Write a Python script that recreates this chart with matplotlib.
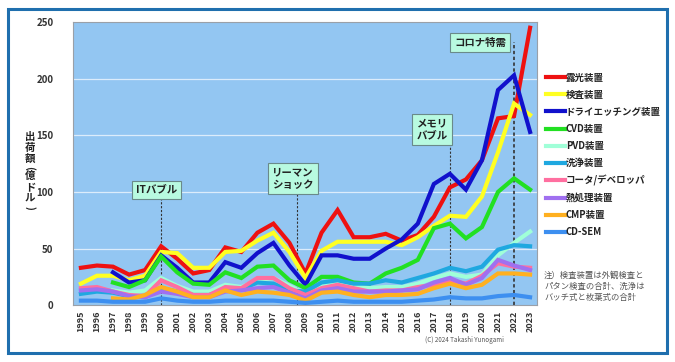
import numpy as np
import matplotlib.pyplot as plt
from matplotlib.patches import Rectangle

plt.rcParams['font.family'] = ['Noto Sans CJK JP', 'DejaVu Sans']

nan = np.nan
years = list(range(1995, 2024))

# shipment values (100M USD)
red = [33, 35, 34, 27, 31, 52, 41, 28, 31, 51, 47, 64, 72, 55, 28, 64, 84, 60, 60, 63, 57, 62, 78, 104, 111, 128, 165, 167, 245]
yellow = [19, 26, 26, 22, 26, 47, 46, 33, 33, 47, 48, 57, 64, 47, 24, 48, 56, 56, 56, 56, 53, 60, 70, 79, 78, 96, 135, 178, 168]
blue = [nan, nan, 29, 20, 22, 44, 33, 20, 20, 38, 33, 46, 55, 35, 18, 44, 44, 41, 41, 50, 58, 72, 107, 116, 102, 128, 190, 203, 153]
green = [nan, nan, 20, 16, 22, 43, 29, 19, 18, 29, 24, 34, 35, 22, 15, 25, 25, 20, 19, 28, 33, 40, 68, 72, 59, 69, 100, 112, 102]
pvd = [nan, nan, 13, 11, 13, 24, 17, 12, 12, 18, 16, 22, 24, 17, 10, 19, 20, 17, 15, 16, 16, 19, 24, 28, 25, 27, 44, 55, 65]
clean = [10, 12, 11, 8, 7, 15, 12, 9, 9, 14, 14, 20, 19, 13, 12, 20, 22, 19, 19, 22, 20, 24, 28, 33, 30, 34, 49, 53, 52]
coater = [15, 16, 12, 9, 8, 22, 16, 9, 9, 16, 15, 24, 24, 15, 9, 15, 18, 15, 12, 13, 13, 16, 18, 22, 19, 26, 37, 34, 33]
heat = [13, 14, 12, 8, 7, 12, 10, 7, 7, 12, 13, 15, 16, 11, 6, 13, 15, 12, 12, 12, 13, 14, 20, 24, 18, 24, 40, 35, 31]
cmp_ = [nan, nan, 6, 5, 9, 16, 12, 7, 7, 13, 9, 12, 11, 9, 4, 11, 12, 9, 7, 9, 9, 10, 15, 19, 15, 18, 28, 28, 27]
cdsem = [4, 4, 3, 3, 3, 6, 4, 3, 3, 4, 4, 4, 4, 3, 2, 3, 4, 3, 3, 3, 3, 4, 5, 7, 6, 6, 8, 9, 7]

series = [
    ('露光装置', red, '#ee1111'),
    ('検査装置', yellow, '#ffff22'),
    ('ドライエッチング装置', blue, '#1111cc'),
    ('CVD装置', green, '#22e022'),
    ('PVD装置', pvd, '#a0ffd8'),
    ('洗浄装置', clean, '#1fa8e0'),
    ('コータ/デベロッパ', coater, '#ff6fa0'),
    ('熱処理装置', heat, '#a070f0'),
    ('CMP装置', cmp_, '#ffb020'),
    ('CD-SEM', cdsem, '#3d8ff0'),
]

# event year, label, box centre (year, value)
events = [(2000, 'ITバブル', 1999.7, 102), (2008.5, 'リーマン\nショック', 2008.2, 112),
          (2018, 'メモリ\nバブル', 2016.9, 155), (2022, 'コロナ特需', 2019.9, 232)]

fig = plt.figure(figsize=(6.75, 3.62), dpi=100)
ax = fig.add_axes([0.108, 0.157, 0.688, 0.782])
ax.set_facecolor('#93c6f2')

for name, vals, col in series:
    ax.plot(years, vals, color=col, lw=3, label=name, solid_joinstyle='miter', zorder=2)

for yv in [50, 100, 150, 200]:
    ax.axhline(yv, color='#dcecfb', lw=0.9, zorder=0.5)

for x, txt, bx, by in events:
    ax.vlines(x, 0, by, color='#333333', lw=0.8 if x != 2022 else 1.2,
              linestyles=(0, (2, 1.5)), zorder=1)
    ax.text(bx, by, txt, ha='center', va='center', fontsize=7.5, fontweight='bold',
            color='#222222', linespacing=1.3, zorder=5,
            bbox=dict(boxstyle='square,pad=0.4', fc='#b8fae0', ec='#6a8a8a', lw=0.8))

ax.set_xlim(1994.5, 2023.45)
ax.set_ylim(0, 250)
ax.set_yticks([0, 50, 100, 150, 200, 250])
ax.set_xticks(years)
ax.set_xticklabels([str(y) for y in years], rotation=90, fontsize=6.5, fontweight='bold', color='#333333')
ax.tick_params(axis='y', length=0, labelsize=7, labelcolor='#333333', pad=14)
ax.tick_params(axis='x', length=0, pad=4)
for lab in ax.get_yticklabels():
    lab.set_fontweight('bold')
for sp in ax.spines.values():
    sp.set_color('#9aa0a8')
    sp.set_linewidth(0.8)

# vertical y label, one character at a time (brackets turned)
ylab = '出荷額(億ドル)'
ypix = 137
for ch in ylab:
    rot = -90 if ch in '()' else 0
    step = 8 if ch in '()' else 11
    if ch in '()':
        ypix -= 1.5
    fig.text(30 / 675, 1 - ypix / 362, ch, ha='center', va='center', fontsize=7.5,
             fontweight='bold', color='#222222', rotation=rot)
    ypix += step

leg = fig.legend(loc='upper left', bbox_to_anchor=(0.803, 0.81), frameon=False, fontsize=6.8,
                 handlelength=2.0, handletextpad=0.1, labelspacing=0.75, borderaxespad=0)
for t in leg.get_texts():
    t.set_fontweight('bold')
    t.set_color('#222222')

fig.text(0.806, 0.21, '注）検査装置は外観検査と\nパタン検査の合計、洗浄は\nバッチ式と枚葉式の合計',
         fontsize=6, color='#555555', va='center', ha='left', linespacing=1.3)
fig.text(0.63, 0.055, '(C) 2024 Takashi Yunogami', fontsize=4.5, color='#555555')

fig.patches.append(Rectangle((0.012, 0.025), 0.976, 0.95, transform=fig.transFigure,
                             fill=False, ec='#1f6fae', lw=2.2))

fig.savefig('out.png', dpi=100, facecolor='white')
